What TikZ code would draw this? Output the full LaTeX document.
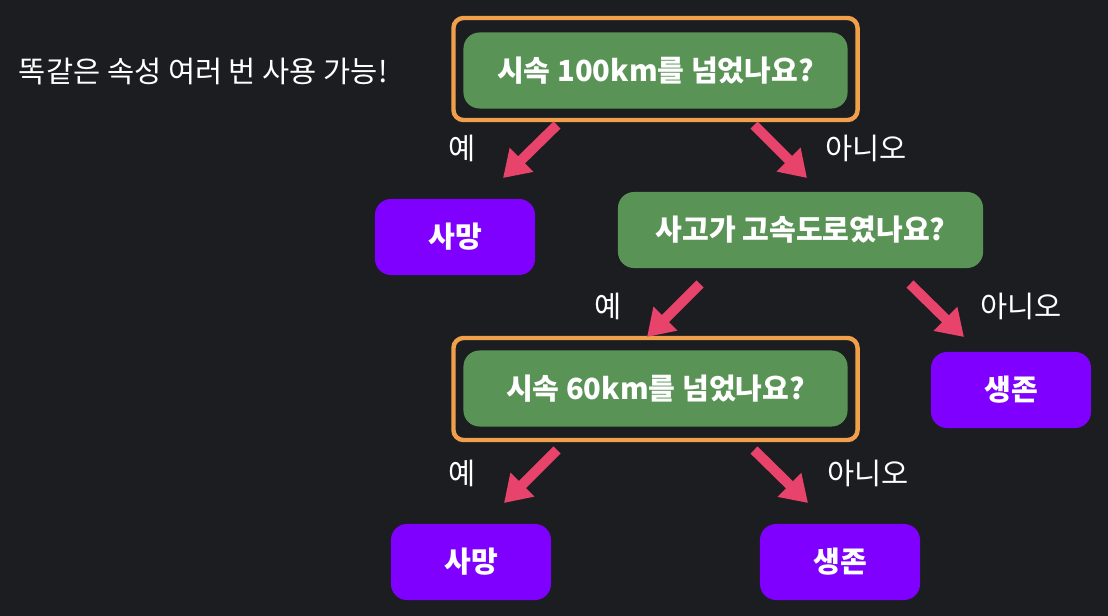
\documentclass[tikz,border=0pt]{standalone}
\usepackage{fontspec}
\setmainfont{Noto Sans CJK KR}
\usetikzlibrary{arrows.meta,positioning}
\definecolor{bgdark}{HTML}{1B1D21}
\definecolor{qgreen}{HTML}{5A9356}
\definecolor{grporange}{HTML}{F0A04B}
\definecolor{leafpurple}{HTML}{7F00FF}
\definecolor{arrpink}{HTML}{E8446B}

\begin{document}
\begin{tikzpicture}[
  x=0.025cm, y=-0.025cm,
  every node/.style={font=\fontsize{21}{23}\selectfont, text=white, align=center},
  question/.style={fill=qgreen, rounded corners=4mm, minimum width=9.6cm, minimum height=1.9cm, font=\bfseries\fontsize{20.7}{23}\selectfont},
  group/.style={draw=grporange, line width=1.1mm, rounded corners=2.5mm, minimum width=10.1cm, minimum height=2.55cm},
  leaf/.style={fill=leafpurple, rounded corners=4mm, minimum width=4cm, minimum height=1.9cm, font=\bfseries\fontsize{20.7}{23}\selectfont},
  arr/.style={draw=arrpink, line width=2.5mm, -{Triangle[width=8mm, length=6.5mm]}}
]
\fill[bgdark] (0,0) rectangle (1108,616);
\useasboundingbox (0,0) rectangle (1108,616);

\node[anchor=west] (note) at (14,72) {똑같은 속성 여러 번 사용 가능!};

% first question
\node[group] (grp1) at (655.5,69) {};
\node[question] (q1) at (655.5,70.5) {시속 100km를 넘었나요?};
\node[leaf] (die1) at (455,237) {사망};
\node[question, minimum width=9.125cm] (q2) at (800.5,230) {사고가 고속도로였나요?};

\coordinate (a1s) at (557,125);  \coordinate (a1e) at (503,178);
\coordinate (a2s) at (754,125);  \coordinate (a2e) at (807,178);
\draw[arr] (a1s) -- (a1e);
\draw[arr] (a2s) -- (a2e);
\node (y1) at (462,148) {예};
\node (n1) at (866,148) {아니오};

% second question
\node[group] (grp2) at (655.5,389) {};
\node[question] (q3) at (655.5,388.5) {시속 60km를 넘었나요?};
\node[leaf] (live1) at (1011,390) {생존};

\coordinate (b1s) at (700,284);  \coordinate (b1e) at (647,337);
\coordinate (b2s) at (910,284);  \coordinate (b2e) at (964,337);
\draw[arr] (b1s) -- (b1e);
\draw[arr] (b2s) -- (b2e);
\node (y2) at (608,306) {예};
\node (n2) at (1021,306) {아니오};

% third question
\node[leaf] (die2) at (471,562) {사망};
\node[leaf] (live2) at (840,562) {생존};

\coordinate (c1s) at (557,450);  \coordinate (c1e) at (504,503);
\coordinate (c2s) at (754,450);  \coordinate (c2e) at (808,503);
\draw[arr] (c1s) -- (c1e);
\draw[arr] (c2s) -- (c2e);
\node (y3) at (462,473) {예};
\node (n3) at (868,473) {아니오};
\end{tikzpicture}
\end{document}
